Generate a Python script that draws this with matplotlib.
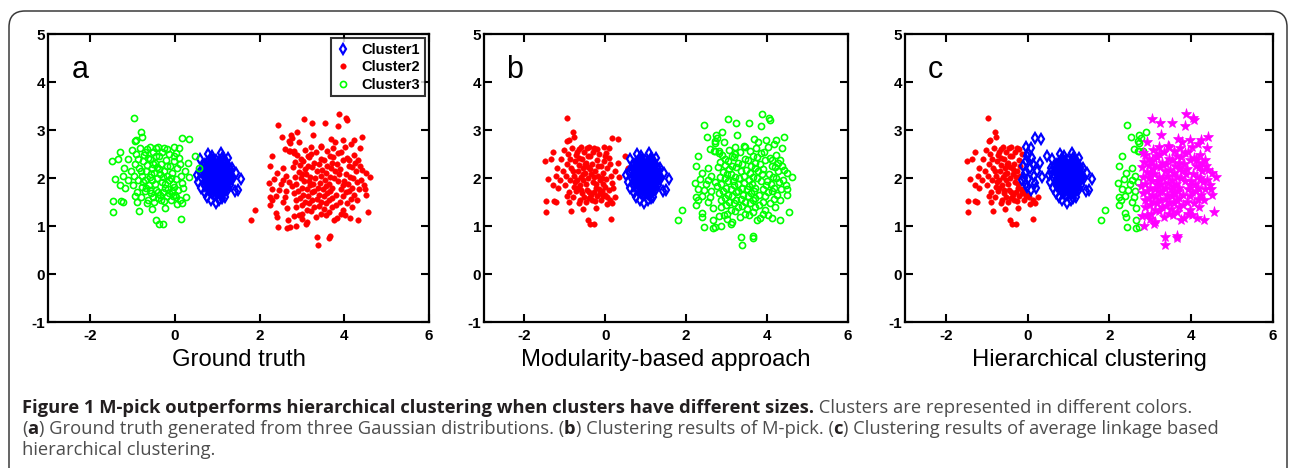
import numpy as np
import matplotlib
matplotlib.use("Agg")
import matplotlib.pyplot as plt
from matplotlib.patches import FancyBboxPatch
from matplotlib.transforms import IdentityTransform

plt.rcParams['font.family'] = ['Liberation Sans', 'DejaVu Sans']
plt.rcParams['axes.unicode_minus'] = False

# left gaussian: points that stay with the left group in hierarchical clustering
left_main = np.array([
    (-1.10, 2.40), (-1.05, 2.15), (-1.12, 1.95), (-1.00, 1.85), (-0.98, 2.05), (-0.95, 2.30), (-0.92, 2.50),
    (-0.90, 1.70), (-0.88, 1.95), (-0.85, 2.20), (-0.83, 2.62), (-0.80, 1.60), (-0.78, 1.82), (-0.77, 2.05),
    (-0.75, 2.35), (-0.73, 2.48), (-0.72, 1.72), (-0.70, 1.95), (-0.68, 2.15), (-0.66, 2.28), (-0.65, 2.60),
    (-0.63, 1.55), (-0.62, 1.85), (-0.60, 2.02), (-0.58, 2.40), (-0.57, 1.68), (-0.55, 2.20), (-0.54, 1.95),
    (-0.52, 2.55), (-0.50, 2.10), (-0.49, 1.50), (-0.48, 2.32), (-0.46, 1.75), (-0.45, 2.62), (-0.43, 2.00),
    (-0.42, 2.22), (-0.40, 1.58), (-0.38, 2.45), (-0.36, 2.08), (-0.35, 1.65), (-0.33, 2.30), (-0.31, 1.92),
    (-0.30, 2.55), (-0.28, 1.70), (-0.26, 2.15), (-0.25, 1.52), (-0.23, 1.88), (-0.21, 2.38), (-0.20, 1.62),
    (-0.18, 2.05), (-0.16, 1.78), (-0.15, 2.50), (-0.10, 1.55), (-0.08, 1.72), (0.00, 1.65), (0.12, 1.55),
    (-1.20, 2.20), (-1.18, 1.80), (-1.22, 2.05), (-0.95, 1.62), (-0.87, 2.40), (-0.80, 2.15), (-0.76, 1.92),
    (-0.71, 2.55), (-0.69, 1.80), (-0.64, 2.42), (-0.59, 1.75), (-0.56, 2.08), (-0.53, 1.60), (-0.51, 2.30),
    (-0.47, 1.88), (-0.44, 2.45), (-0.41, 1.70), (-0.37, 2.18), (-0.34, 1.55), (-0.29, 2.02), (-0.27, 2.62),
    (-0.24, 1.80), (-0.19, 2.25), (-0.14, 1.68), (0.03, 1.60), (-1.02, 2.58), (-0.60, 2.65), (-0.40, 2.65),
    (-0.20, 2.60), (-0.90, 1.50), (-0.65, 1.48),
    (-0.96, 3.25), (-0.80, 2.96), (-0.77, 2.86), (-0.94, 2.77), (-0.91, 2.80), (-1.48, 2.35), (-1.29, 2.55),
    (-1.41, 1.98), (-1.47, 1.52), (-1.28, 1.52), (-1.23, 1.50), (-1.47, 1.30), (-0.84, 1.31), (-0.44, 1.13),
    (-0.38, 1.04), (-0.29, 1.04), (0.13, 1.15), (0.17, 1.47), (-0.23, 1.37), (-1.30, 1.85), (-1.35, 2.40),
    (0.25, 1.60), (-0.55, 1.35), (0.05, 1.45), (-0.05, 1.62),
])
# left gaussian: points that hierarchical clustering puts with the middle group
left_edge = np.array([
    (-0.13, 1.95), (-0.11, 2.25), (-0.06, 2.10), (-0.05, 1.88), (-0.03, 2.35), (0.02, 1.98), (0.05, 2.20),
    (0.10, 2.42), (0.15, 2.05), (-0.09, 2.00), (0.17, 2.84), (0.32, 2.81), (0.48, 2.46), (0.31, 2.31),
    (0.34, 2.03), (0.56, 2.20), (0.17, 1.90), (-0.03, 2.65), (0.09, 2.62), (0.02, 2.52), (-0.02, 2.45),
    (0.08, 1.75), (0.20, 1.80), (-0.02, 1.82), (0.24, 2.15), (0.12, 2.30),
])
# middle, tight gaussian
mid = np.array([
    (0.78, 2.50), (1.09, 2.53), (0.60, 2.39), (0.51, 2.06), (0.55, 1.92), (1.57, 1.97), (1.49, 1.75),
    (1.42, 1.72), (0.96, 1.47), (1.19, 1.60), (0.76, 1.61), (1.35, 2.20), (0.70, 1.68), (0.62, 1.80),
    (1.25, 2.42), (0.88, 2.45), (1.30, 1.85), (0.68, 2.25), (1.05, 1.55), (1.38, 2.00), (0.58, 2.12),
    (1.12, 1.58), (0.85, 1.55), (1.45, 2.10),
    (0.85, 2.41), (0.98, 2.38), (1.12, 2.42), (0.78, 2.34), (0.92, 2.36), (1.05, 2.33), (1.18, 2.37),
    (0.72, 2.29), (0.84, 2.31), (0.97, 2.28), (1.10, 2.30), (1.22, 2.27), (0.75, 2.24), (0.88, 2.26),
    (1.01, 2.23), (1.14, 2.25), (1.27, 2.22), (0.70, 2.19), (0.81, 2.21), (0.93, 2.18), (1.05, 2.20),
    (1.17, 2.17), (1.29, 2.19), (0.66, 2.14), (0.78, 2.16), (0.90, 2.13), (1.02, 2.15), (1.14, 2.12),
    (1.25, 2.14), (0.72, 2.09), (0.84, 2.11), (0.96, 2.08), (1.08, 2.10), (1.20, 2.07), (1.31, 2.09),
    (0.68, 2.04), (0.79, 2.06), (0.91, 2.03), (1.03, 2.05), (1.15, 2.02), (1.27, 2.04), (0.73, 1.99),
    (0.85, 2.01), (0.97, 1.98), (1.09, 2.00), (1.21, 1.97), (1.33, 1.99), (0.70, 1.94), (0.82, 1.96),
    (0.94, 1.93), (1.06, 1.95), (1.18, 1.92), (1.29, 1.94), (0.75, 1.89), (0.88, 1.91), (1.00, 1.88),
    (1.12, 1.90), (1.24, 1.87), (0.72, 1.84), (0.84, 1.86), (0.96, 1.83), (1.08, 1.85), (1.20, 1.82),
    (0.78, 1.79), (0.90, 1.81), (1.02, 1.78), (1.14, 1.80), (1.26, 1.77), (0.82, 1.74), (0.95, 1.76),
    (1.07, 1.73), (1.19, 1.75), (0.87, 1.69), (1.00, 1.71), (1.12, 1.68), (0.93, 1.64), (1.06, 1.66),
    (0.91, 2.32), (1.04, 2.29), (0.86, 2.20), (0.99, 2.17), (1.11, 2.19), (1.23, 2.16), (0.76, 2.12),
    (0.88, 2.07), (1.00, 2.10), (1.12, 2.06), (1.24, 2.10), (0.80, 2.01), (0.92, 1.98), (1.04, 2.01),
    (1.16, 1.97), (1.27, 2.00), (0.77, 1.92), (0.90, 1.87), (1.02, 1.91), (1.15, 1.86), (0.86, 1.80),
    (0.98, 1.77), (1.10, 1.79), (1.22, 1.81), (0.94, 2.24), (1.08, 2.24), (0.83, 2.27), (1.19, 2.30),
    (0.87, 2.36), (1.15, 2.33), (0.74, 2.20), (0.96, 2.13), (1.18, 2.12), (0.82, 2.06), (1.06, 2.05),
    (0.88, 1.96), (1.12, 1.95), (0.80, 1.88), (1.06, 1.82), (0.92, 1.72), (1.16, 1.71), (1.32, 2.05),
])
# right, wide gaussian: points hierarchical clustering keeps together
right_main = np.array([
    (3.04, 3.22), (3.23, 3.14), (3.54, 3.14), (3.88, 3.33), (4.05, 3.25), (4.06, 3.20), (3.86, 3.08),
    (3.26, 2.90), (3.68, 2.81), (4.23, 2.79), (4.42, 2.85), (4.38, 2.62), (3.98, 2.79), (4.01, 2.65),
    (2.88, 2.48), (3.21, 2.49), (3.45, 2.65), (4.12, 2.38), (4.33, 2.38), (4.36, 2.24), (4.50, 2.11),
    (4.61, 2.03), (4.46, 1.85), (4.48, 1.77), (4.50, 1.64), (4.55, 1.30), (4.32, 1.13), (4.13, 1.17),
    (3.37, 0.60), (3.36, 0.78), (3.64, 0.76), (3.66, 0.80), (3.10, 1.05), (3.12, 1.08), (3.76, 1.13),
    (2.85, 0.99), (2.80, 1.20), (3.00, 1.15),
    (2.93, 2.74), (3.44, 2.67), (3.77, 2.76), (4.16, 2.70), (3.07, 2.58), (3.21, 2.64), (3.58, 2.57),
    (3.73, 2.63), (3.93, 2.55), (2.81, 2.53), (3.13, 2.46), (3.33, 2.54), (3.66, 2.45), (3.85, 2.52),
    (4.22, 2.47), (2.97, 2.39), (3.17, 2.44), (3.46, 2.40), (3.74, 2.43), (4.07, 2.41), (2.84, 2.33),
    (3.03, 2.36), (3.29, 2.31), (3.52, 2.37), (3.70, 2.32), (3.96, 2.38), (4.26, 2.32), (2.96, 2.27),
    (3.13, 2.24), (3.39, 2.30), (3.60, 2.25), (3.83, 2.29), (4.11, 2.24), (2.79, 2.22), (3.06, 2.18),
    (3.24, 2.23), (3.47, 2.17), (3.69, 2.21), (3.90, 2.18), (4.19, 2.23), (4.41, 2.17), (2.92, 2.12),
    (3.10, 2.09), (3.36, 2.15), (3.57, 2.10), (3.77, 2.14), (4.04, 2.09), (4.27, 2.15), (2.83, 2.03),
    (3.00, 2.08), (3.20, 2.02), (3.44, 2.05), (3.66, 2.03), (3.87, 2.08), (4.14, 2.02), (2.97, 1.99),
    (3.16, 1.94), (3.31, 2.00), (3.54, 1.95), (3.76, 1.99), (3.99, 1.94), (4.21, 2.00), (4.39, 1.95),
    (2.86, 1.88), (3.04, 1.93), (3.27, 1.87), (3.43, 1.90), (3.63, 1.88), (3.84, 1.93), (4.09, 1.87),
    (4.29, 1.92), (2.77, 1.84), (2.99, 1.79), (3.19, 1.85), (3.37, 1.80), (3.56, 1.84), (3.71, 1.79),
    (3.97, 1.85), (4.17, 1.80), (2.91, 1.73), (3.11, 1.78), (3.28, 1.72), (3.50, 1.77), (3.67, 1.73),
    (3.91, 1.78), (4.11, 1.72), (4.34, 1.77), (2.81, 1.69), (3.03, 1.64), (3.23, 1.70), (3.41, 1.65),
    (3.59, 1.69), (3.81, 1.64), (4.03, 1.70), (4.24, 1.65), (2.96, 1.58), (3.14, 1.63), (3.36, 1.57),
    (3.53, 1.62), (3.71, 1.58), (3.96, 1.63), (4.16, 1.57), (2.86, 1.54), (3.06, 1.49), (3.24, 1.55),
    (3.46, 1.50), (3.64, 1.54), (3.89, 1.49), (4.31, 1.55), (2.99, 1.43), (3.17, 1.48), (3.39, 1.42),
    (3.57, 1.47), (3.81, 1.43), (4.06, 1.48), (2.87, 1.39), (3.11, 1.34), (3.29, 1.40), (3.51, 1.35),
    (3.71, 1.39), (3.96, 1.34), (4.19, 1.40), (3.01, 1.26), (3.21, 1.31), (3.46, 1.25), (3.64, 1.30),
    (3.91, 1.26), (2.93, 1.22), (3.34, 1.18), (3.56, 1.23), (3.83, 1.17), (4.01, 1.22),
])
# right gaussian: left fringe split off by hierarchical clustering
right_edge = np.array([
    (2.43, 3.10), (2.52, 2.86), (2.73, 2.90), (2.76, 2.83), (2.89, 2.95), (2.59, 2.60), (2.72, 2.57),
    (2.30, 2.46), (2.24, 2.24), (2.22, 1.90), (2.24, 1.61), (2.24, 1.44), (2.40, 1.18), (2.44, 0.98),
    (2.65, 0.95), (2.72, 0.97), (1.90, 1.33), (1.80, 1.13), (2.55, 2.20), (2.40, 2.10), (2.35, 1.98),
    (2.55, 1.95), (2.70, 1.92), (2.30, 1.78), (2.45, 1.76), (2.62, 1.72), (2.38, 1.62), (2.28, 1.55),
    (2.60, 1.60), (2.55, 1.50), (2.65, 1.38), (2.39, 1.28), (2.66, 1.12), (2.82, 2.56), (2.69, 2.56),
    (2.72, 2.72), (2.70, 2.78), (2.50, 1.88), (2.62, 2.05),
])

left_all = np.vstack([left_main, left_edge])
right_all = np.vstack([right_main, right_edge])

titles = ['Ground truth', 'Modularity-based approach', 'Hierarchical clustering']
letters = ['a', 'b', 'c']
legend_labels = ['Cluster1', 'Cluster2', 'Cluster3']

W, H = 1290, 468
fig = plt.figure(figsize=(W / 100, H / 100), dpi=100)

# rounded frame of the journal figure (pixel coordinates)
frame = FancyBboxPatch((9, -40), 1278, H - 11 + 40, boxstyle="round,pad=0,rounding_size=16",
                       transform=IdentityTransform(), fill=False, edgecolor='#3a3a3a', linewidth=1.1)
fig.patches.append(frame)

ax_px = [(48, 381), (484, 364), (905, 368)]
axes = []
for (l, w) in ax_px:
    axes.append(fig.add_axes([l / W, 1 - 322 / H, w / W, 288 / H]))

diamond = dict(marker='d', ms=5, mfc='none', mec='blue', mew=1.6, ls='none')
dot = dict(marker='o', ms=4, mfc='red', mec='red', mew=0.3, ls='none')
circle = dict(marker='o', ms=4.4, mfc='none', mec='#00ff00', mew=1.2, ls='none')
star = dict(marker='*', ms=8, mfc='magenta', mec='magenta', mew=0.5, ls='none')

# a: ground truth
ax = axes[0]
h1, = ax.plot(mid[:, 0], mid[:, 1], **diamond)
h2, = ax.plot(right_all[:, 0], right_all[:, 1], **dot)
h3, = ax.plot(left_all[:, 0], left_all[:, 1], **circle)
leg = ax.legend([h1, h2, h3], legend_labels, loc='upper right', borderaxespad=0.3, fancybox=False,
                handlelength=1.0, handletextpad=0.8, borderpad=0.3, labelspacing=0.25,
                prop={'weight': 'bold', 'size': 10.5})
leg.get_frame().set_edgecolor('black')
leg.get_frame().set_linewidth(1.5)

# b: M-pick
ax = axes[1]
ax.plot(left_all[:, 0], left_all[:, 1], **dot)
ax.plot(mid[:, 0], mid[:, 1], **diamond)
ax.plot(right_all[:, 0], right_all[:, 1], **circle)

# c: hierarchical clustering
ax = axes[2]
ax.plot(left_main[:, 0], left_main[:, 1], **dot)
ax.plot(left_edge[:, 0], left_edge[:, 1], **diamond)
ax.plot(mid[:, 0], mid[:, 1], **diamond)
ax.plot(right_edge[:, 0], right_edge[:, 1], **circle)
ax.plot(right_main[:, 0], right_main[:, 1], **star)

for ax, letter, title, (l, w) in zip(axes, letters, titles, ax_px):
    ax.set_xlim(-3, 6)
    ax.set_ylim(-1, 5)
    ax.set_xticks([-2, 0, 2, 4, 6])
    ax.set_yticks([-1, 0, 1, 2, 3, 4, 5])
    ax.tick_params(direction='in', top=True, right=True, length=6, width=1.5, pad=5)
    ax.tick_params(axis='y', pad=2)
    for lbl in ax.get_xticklabels() + ax.get_yticklabels():
        lbl.set_fontweight('bold')
        lbl.set_fontsize(11)
    for sp in ax.spines.values():
        sp.set_linewidth(1.6)
    ax.text(-2.45, 4.25, letter, fontsize=22, va='center', ha='left')
    fig.text((l + w / 2) / W, 1 - 360 / H, title, fontsize=17.2, ha='center', va='center')

# caption, drawn run by run so bold and normal parts follow each other
renderer = fig.canvas.get_renderer()


def draw_runs(runs, x_px, y_px, size=13.2):
    x = x_px / W
    for s, weight, color in runs:
        t = fig.text(x, 1 - y_px / H, s, fontsize=size, fontweight=weight, color=color,
                     family='Open Sans', va='baseline', ha='left')
        x += t.get_window_extent(renderer).width / fig.bbox.width


dark = '#231f20'
grey = '#4d4d4d'
draw_runs([('Figure 1 M-pick outperforms hierarchical clustering when clusters have different sizes.', 'bold', dark),
           (' Clusters are represented in different colors.', 'normal', grey)], 22, 413)
draw_runs([('(', 'normal', grey), ('a', 'bold', dark),
           (') Ground truth generated from three Gaussian distributions. (', 'normal', grey), ('b', 'bold', dark),
           (') Clustering results of M-pick. (', 'normal', grey), ('c', 'bold', dark),
           (') Clustering results of average linkage based', 'normal', grey)], 22, 434)
draw_runs([('hierarchical clustering.', 'normal', grey)], 22, 455)

fig.savefig('out.png', dpi=100)
